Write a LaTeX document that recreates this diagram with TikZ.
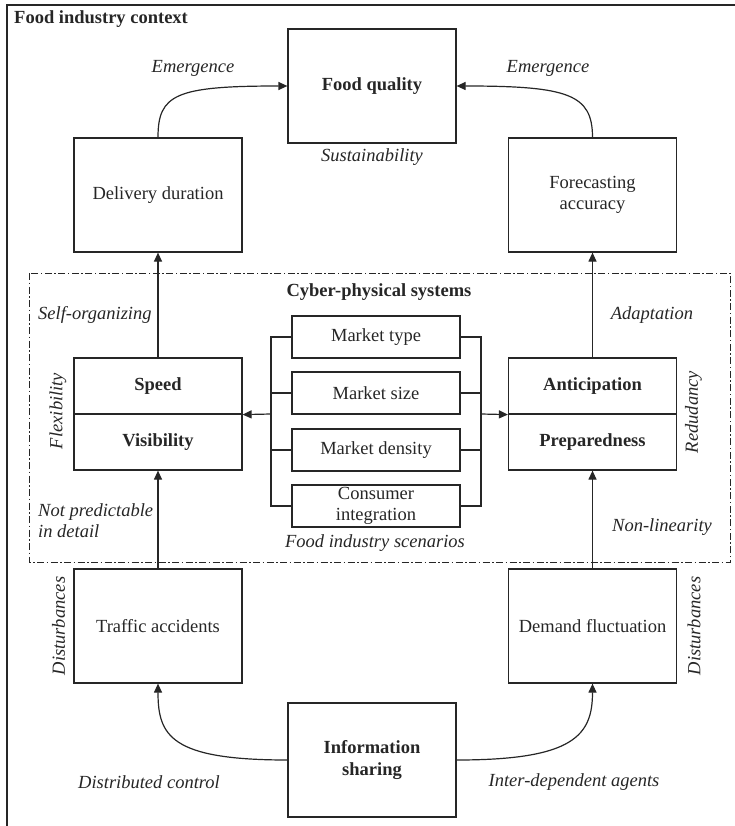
\documentclass[tikz,border=0pt]{standalone}
\usepackage{fontspec}
\setmainfont{Liberation Serif}
\usetikzlibrary{arrows.meta}
\definecolor{ink}{gray}{0.15}
\begin{document}
\begin{tikzpicture}[x=1pt,y=-1pt,
  every node/.style={font=\fontsize{18.5}{21.5}\selectfont, inner sep=0pt, text=ink},
  box/.style={draw=ink, line width=1.2pt, minimum width=168pt, minimum height=114pt, align=center},
  half/.style={draw=ink, line width=1.2pt, minimum width=168pt, minimum height=56pt, font=\fontsize{18.5}{21.5}\selectfont\bfseries},
  mkt/.style={draw=ink, line width=1.2pt, minimum width=168pt, minimum height=42pt, align=center},
  lbl/.style={font=\fontsize{18.5}{21}\selectfont\itshape, align=left},
  wire/.style={draw=ink, line width=1.2pt},
  arr/.style={wire, -{Triangle[length=9pt,width=8pt]}},
  zone/.style={draw=ink, line width=1pt, dash pattern=on 7pt off 2.5pt on 1.5pt off 2.5pt}
]
\useasboundingbox (0,0) rectangle (735,826);

% outer context frame
\draw[draw=ink, line width=1.6pt] (7,826) -- (7,5) -- (740,5);
\node[anchor=west, font=\fontsize{18.5}{21}\selectfont\bfseries] (ctx) at (14,19) {Food industry context};

% cyber-physical systems zone
\draw[zone] (29,273) rectangle (730,562);
\node[font=\fontsize{18.5}{21}\selectfont\bfseries] (cps) at (379,292) {Cyber-physical systems};

% outcome boxes
\node[box, font=\fontsize{18.5}{21.5}\selectfont\bfseries] (fq) at (372,86) {Food quality};
\node[box] (dd) at (158,195) {Delivery duration};
\node[box] (fa) at (592.5,195) {Forecasting\\accuracy};

% capability boxes
\node[half] (spd) at (158,386) {Speed};
\node[half] (vis) at (158,442) {Visibility};
\node[half] (ant) at (592.5,386) {Anticipation};
\node[half] (prep) at (592.5,442) {Preparedness};

% scenario boxes
\node[mkt] (mt) at (376,337) {Market type};
\node[mkt] (ms) at (376,393) {Market size};
\node[mkt] (md) at (376,450) {Market density};
\node[mkt] (ci) at (376,506) {Consumer\\integration};

% disturbance boxes
\node[box] (ta) at (158,626) {Traffic accidents};
\node[box] (df) at (592.5,626) {Demand fluctuation};
\node[box, font=\fontsize{18.5}{22}\selectfont\bfseries] (is) at (372,760) {Information\\sharing};

% scenario brackets
\coordinate (lj) at (271,414);
\coordinate (rj) at (481,414);
\draw[wire] (mt.west) -- (mt.west -| lj) -- (ci.west -| lj) -- (ci.west);
\draw[wire] (ms.west) -- (ms.west -| lj);
\draw[wire] (md.west) -- (md.west -| lj);
\draw[wire] (mt.east) -- (mt.east -| rj) -- (ci.east -| rj) -- (ci.east);
\draw[wire] (ms.east) -- (ms.east -| rj);
\draw[wire] (md.east) -- (md.east -| rj);
\draw[arr] (lj) -- (spd.south east);
\draw[arr] (rj) -- (ant.south west);

% vertical links
\draw[arr] (spd.north) -- (dd.south);
\draw[arr] (ant.north -| fa.south) -- (fa.south);
\draw[arr] (ta.north) -- (vis.south);
\draw[arr] (df.north) -- (prep.south);

% curved links
\draw[arr] (dd.north) .. controls +(0,-43) and +(-112,0) .. (fq.west);
\draw[arr] (fa.north) .. controls +(0,-43) and +(112,0) .. (fq.east);
\draw[arr] (is.west) .. controls +(-117,0) and +(0,52) .. (ta.south);
\draw[arr] (is.east) .. controls +(117,0) and +(0,52) .. (df.south);

% labels
\node[lbl] (em1) at (193,68) {Emergence};
\node[lbl] (em2) at (548,68) {Emergence};
\node[lbl] (sus) at (372,157) {Sustainability};
\node[lbl, anchor=west] (so) at (38,315) {Self-organizing};
\node[lbl] (ad) at (652,315) {Adaptation};
\node[lbl, rotate=90] (fl) at (58,411) {Flexibility};
\node[lbl, rotate=90] (rd) at (693.5,412) {Redudancy};
\node[lbl, anchor=north west] (np) at (38,503) {Not predictable\\in detail};
\node[lbl] (nl) at (662,527) {Non-linearity};
\node[lbl] (fis) at (375,543) {Food industry scenarios};
\node[lbl, rotate=90] (dl) at (58.5,626) {Disturbances};
\node[lbl, rotate=90] (dr) at (694,626) {Disturbances};
\node[lbl] (dc) at (149,782) {Distributed control};
\node[lbl] (ida) at (574,782) {Inter-dependent agents};
\end{tikzpicture}
\end{document}
